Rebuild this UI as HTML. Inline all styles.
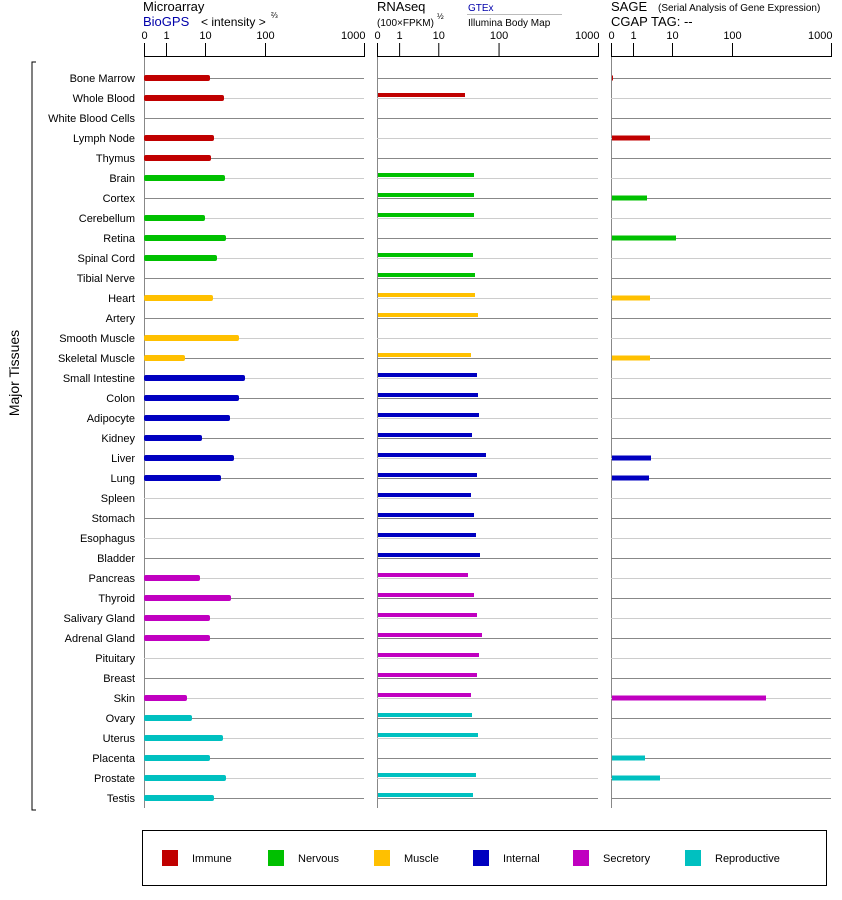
<!DOCTYPE html>
<html><head><meta charset="utf-8"><style>
body{margin:0;background:#fff}
svg{display:block;font-family:"Liberation Sans",Arial,sans-serif}
</style></head><body>
<svg width="842" height="900" xmlns="http://www.w3.org/2000/svg">
<rect width="842" height="900" fill="#fff"/>
<g font-size="13" fill="#000">
<text x="143" y="11">Microarray</text>
<text x="143" y="26" fill="#0000aa">BioGPS</text>
<text x="201" y="26" font-size="12">&lt; intensity &gt;</text>
<text x="271" y="18" font-size="8">⅔</text>
<text x="377" y="11">RNAseq</text>
<text x="377" y="26" font-size="10">(100×FPKM)</text>
<text x="437" y="19" font-size="8">½</text>
<text x="468" y="11" font-size="10" fill="#0000aa">GTEx</text>
<line x1="467" y1="14.5" x2="562" y2="14.5" stroke="#bbb"/>
<text x="468" y="26" font-size="10">Illumina Body Map</text>
<text x="611" y="11">SAGE</text>
<text x="658" y="11" font-size="10">(Serial Analysis of Gene Expression)</text>
<text x="611" y="26">CGAP TAG:  --</text>
</g>
<g id="axes" stroke="#000" stroke-width="1" fill="none"></g>
<g id="rows"></g>
<g id="labels" font-size="11" text-anchor="end" fill="#000"></g>
<path d="M36 62 H32 V810 H36" stroke="#000" fill="none"/>
<text transform="translate(19,373) rotate(-90)" font-size="14" text-anchor="middle">Major Tissues</text>
<rect x="142.5" y="830.5" width="684" height="55" fill="none" stroke="#000"/>
<g font-size="11">
<rect x="162" y="850" width="16" height="16" fill="#c00000"/><text x="192" y="862">Immune</text>
<rect x="268" y="850" width="16" height="16" fill="#00c000"/><text x="298" y="862">Nervous</text>
<rect x="374" y="850" width="16" height="16" fill="#ffc000"/><text x="404" y="862">Muscle</text>
<rect x="473" y="850" width="16" height="16" fill="#0000c0"/><text x="503" y="862">Internal</text>
<rect x="573" y="850" width="16" height="16" fill="#c000c0"/><text x="603" y="862">Secretory</text>
<rect x="685" y="850" width="16" height="16" fill="#00c0c0"/><text x="715" y="862">Reproductive</text>
</g>
<script>
const NS="http://www.w3.org/2000/svg";
function el(p,t,a,txt){const e=document.createElementNS(NS,t);for(const k in a)e.setAttribute(k,a[k]);if(txt!=null)e.textContent=txt;p.appendChild(e);return e;}
const names=["Bone Marrow","Whole Blood","White Blood Cells","Lymph Node","Thymus","Brain","Cortex","Cerebellum","Retina","Spinal Cord","Tibial Nerve","Heart","Artery","Smooth Muscle","Skeletal Muscle","Small Intestine","Colon","Adipocyte","Kidney","Liver","Lung","Spleen","Stomach","Esophagus","Bladder","Pancreas","Thyroid","Salivary Gland","Adrenal Gland","Pituitary","Breast","Skin","Ovary","Uterus","Placenta","Prostate","Testis"];
const C={I:"#c00000",N:"#00c000",M:"#ffc000",T:"#0000c0",S:"#c000c0",R:"#00c0c0"};
const cat="IIIIINNNNNNMMMMTTTTTTTTTTSSSSSSSRRRRR";
const panels=[{x:144,w:220},{x:377,w:221},{x:611,w:220}];
const ticks=[[0,"0"],[22,"1"],[61,"10"],[121,"100"],[220,"1000"]];
const svg=document.querySelector("svg");
const ax=document.getElementById("axes"),rows=document.getElementById("rows"),lab=document.getElementById("labels");
panels.forEach((p,i)=>{
 el(ax,"line",{x1:p.x,y1:56.5,x2:p.x+p.w+1,y2:56.5});
 ticks.forEach(([d,t],j)=>{const x=p.x+d*p.w/220+0.5;el(ax,"line",{x1:x,y1:43,x2:x,y2:57});
  el(svg,"text",{x:j==4?x+1:x,y:39,"font-size":11,"text-anchor":j==4?"end":"middle"},t);});
 el(rows,"line",{x1:p.x+0.5,y1:57,x2:p.x+0.5,y2:808,stroke:"#888"});
 for(let r=0;r<37;r++){const y=78+r*20+0.5;el(rows,"line",{x1:p.x,y1:y,x2:p.x+p.w,y2:y,stroke:r%2?"#ccc":"#888"});}
});
names.forEach((n,r)=>el(lab,"text",{x:135,y:82+r*20},n));
const micro={0:210,1:224,3:214,4:211,5:225,7:205,8:226,9:217,11:213,13:239,14:185,15:245,16:239,17:230,18:202,19:234,20:221,25:200,26:231,27:210,28:210,31:187,32:192,33:223,34:210,35:226,36:214};
const rna={1:465,5:474,6:474,7:474,9:473,10:475,11:475,12:478,14:471,15:477,16:478,17:479,18:472,19:486,20:477,21:471,22:474,23:476,24:480,25:468,26:474,27:477,28:482,29:479,30:477,31:471,32:472,33:478,35:476,36:473};
const sage={0:613,3:650,5:612,6:647,7:612,8:676,9:612,11:650,14:650,16:612,18:612,19:651,20:649,25:612,26:612,30:612,31:766,34:645,35:660};
for(const r in micro){const y=78+r*20;el(rows,"rect",{x:144,y:y-3,width:micro[r]-144,height:6,rx:2,fill:C[cat[r]]});}
for(const r in rna){const y=78+r*20;el(rows,"rect",{x:378,y:y-5,width:rna[r]-378,height:4,fill:C[cat[r]]});}
for(const r in sage){const y=78+r*20;el(rows,"rect",{x:612,y:y-2.5,width:sage[r]-612,height:5,fill:C[cat[r]]});}
</script>
</svg>
</body></html>
